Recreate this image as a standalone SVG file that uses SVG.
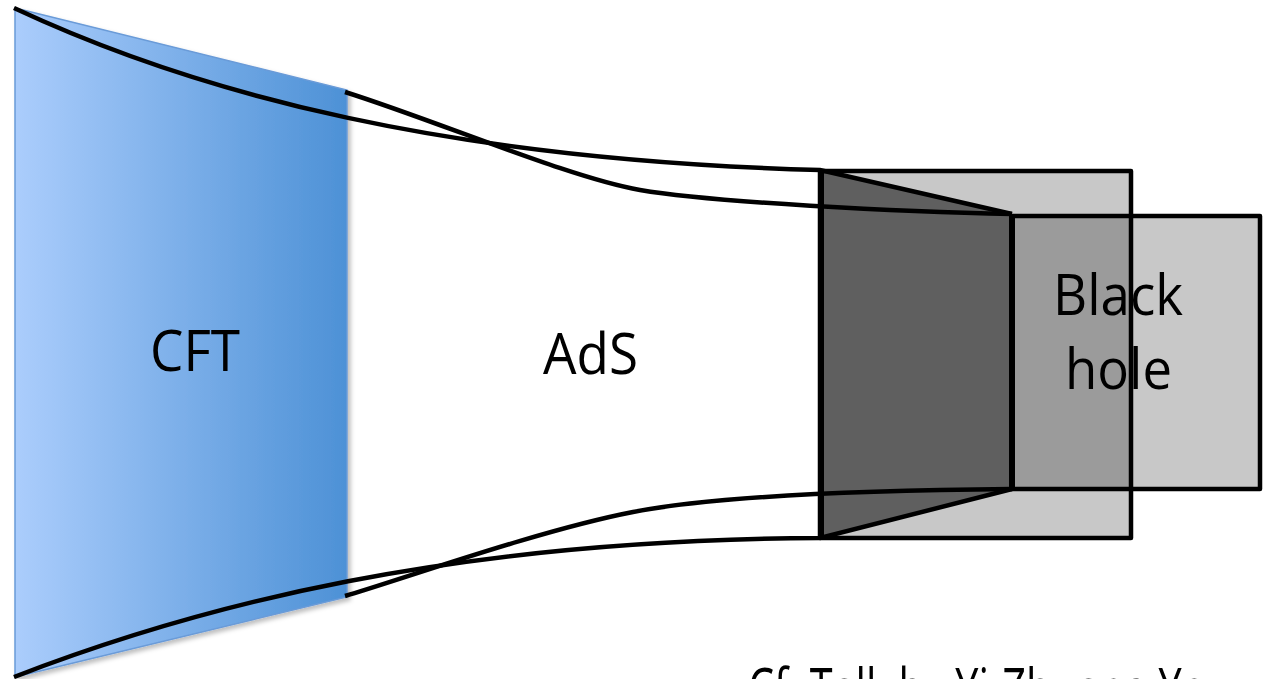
<svg xmlns="http://www.w3.org/2000/svg" width="1267" height="679" viewBox="0 0 1267 679">
<defs>
<linearGradient id="cftGrad" x1="0" y1="0" x2="1" y2="0">
<stop offset="0" stop-color="#abcdfc"/>
<stop offset="1" stop-color="#4d91d6"/>
</linearGradient>
<filter id="shadow" x="-5%" y="-5%" width="115%" height="115%">
<feDropShadow dx="3" dy="3" stdDeviation="2" flood-color="#000" flood-opacity="0.25"/>
</filter>
<style>
.lbl{font-family:"Open Sans","Liberation Sans",sans-serif;font-size:57px;fill:#000;}
.note{font-family:"Open Sans","Liberation Sans",sans-serif;font-size:57px;fill:#000;}
.edge{fill:none;stroke:#000;stroke-width:4.5;stroke-linecap:butt;}
.box{stroke:#000;stroke-width:4.5;stroke-linejoin:round;}
</style>
</defs>
<rect width="1267" height="679" fill="#fff"/>
<g id="cft">
<polygon points="15,8 347,90 347,597 15,677" fill="url(#cftGrad)" stroke="#6a9bd8" stroke-width="1.5" filter="url(#shadow)"/>
<text class="lbl" x="150" y="371" textLength="90" lengthAdjust="spacingAndGlyphs">CFT</text>
</g>
<g id="ads">
<text class="lbl" x="543" y="374" textLength="95" lengthAdjust="spacingAndGlyphs">AdS</text>
</g>
<g id="blackhole">
<rect x="820" y="171" width="311" height="367" fill="#c8c8c8"/>
<rect x="1012" y="216" width="248" height="273" fill="#c8c8c8"/>
<rect x="1012" y="216" width="119" height="273" fill="#9b9b9b"/>
<polygon points="820,171 1012,215 1012,489 820,538" fill="#5f5f5f"/>
<rect class="box" x="820" y="171" width="311" height="367" fill="none"/>
<rect class="box" x="1012" y="216" width="248" height="273" fill="none"/>
<line x1="821" y1="171" x2="821" y2="538" stroke="#000" stroke-width="6"/>
<line x1="1012" y1="215" x2="1012" y2="489" stroke="#000" stroke-width="6"/>
<text class="lbl" x="1053" y="315" textLength="130" lengthAdjust="spacingAndGlyphs">Black</text>
<text class="lbl" x="1065" y="389" textLength="107" lengthAdjust="spacingAndGlyphs">hole</text>
</g>
<g id="connectors">
<path class="edge" d="M14,8 C200,95 450,160 820,170 L1012,214"/>
<path class="edge" d="M345,92 C440,122 570,178 640,190 S900,212 1012,214"/>
<path class="edge" d="M14,677 C200,605 450,540 820,538 L1012,489"/>
<path class="edge" d="M345,596 C400,580 540,530 633,512 S900,490 1012,489"/>
</g>
<g id="note">
<text class="note" x="748" y="709" textLength="484" lengthAdjust="spacingAndGlyphs">Cf. Talk by Yi-Zhuang You</text>
</g>
</svg>
